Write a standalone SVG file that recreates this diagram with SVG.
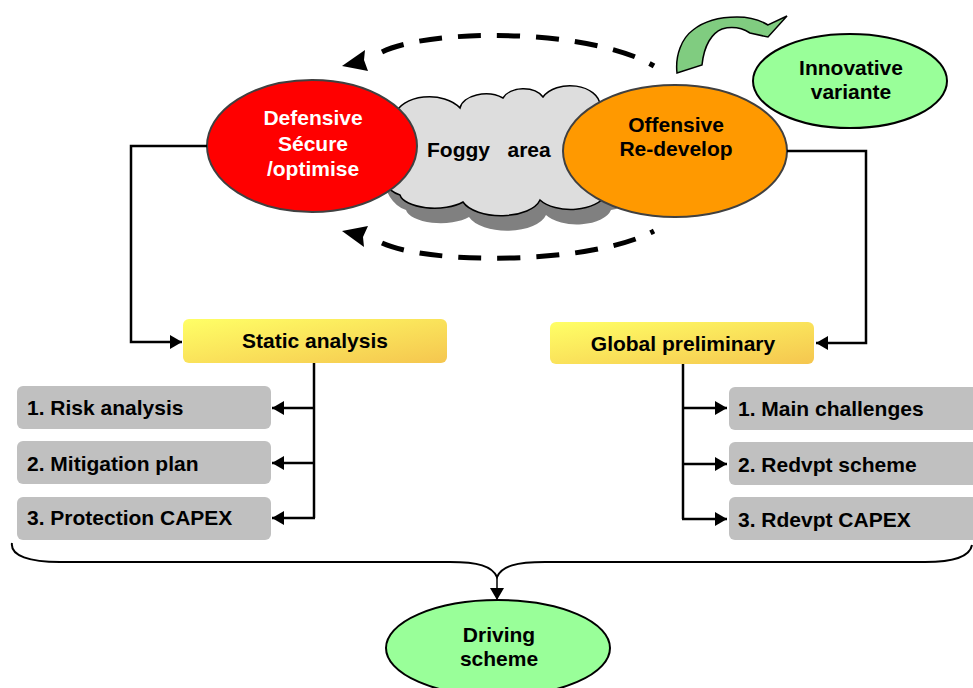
<svg xmlns="http://www.w3.org/2000/svg" width="973" height="688" viewBox="0 0 973 688">
<defs>
<style>
text{font-family:"Liberation Sans",Arial,sans-serif;font-weight:bold;font-size:21px;fill:#000}
.c{text-anchor:middle}
.w{fill:#fff}
.conn{fill:none;stroke:#000;stroke-width:2.5}
.dash{fill:none;stroke:#000;stroke-width:5;stroke-dasharray:23 16}
.grey{fill:#c0c0c0}
.yel{fill:url(#yg)}
</style>
<linearGradient id="yg" x1="0" y1="0" x2="1" y2="1">
<stop offset="0" stop-color="#ffff66"/>
<stop offset="1" stop-color="#f5c64f"/>
</linearGradient>
<marker id="ah" markerWidth="12" markerHeight="14" refX="12" refY="7" orient="auto" markerUnits="userSpaceOnUse">
<path d="M0,0 L12,7 L0,14 Z" fill="#000"/>
</marker>
</defs>

<g id="cycle-arrows">
<path class="dash" d="M382,52 C430,28 590,28 654,66"/>
<polygon points="342,66 365,50 364,60 368,71" fill="#000"/>
<path class="dash" d="M382,243 C430,265 590,265 654,231"/>
<polygon points="342,231 364,247 363,237 368,226" fill="#000"/>
</g>

<g id="foggy-area">
<path transform="translate(6,15)" fill="#808080" d="M395,115 A35 22 0 0 1 460,108 A26 16 0 0 1 503,98 A22 15 0 0 1 543,97 A30 20 0 0 1 600,105 A30 45 0 0 1 605,195 A35 18 0 0 1 540,200 A40 20 0 0 1 463,202 A35 15 0 0 1 400,195 A30 42 0 0 1 395,115 Z"/>
<path fill="#dddddd" stroke="#000" stroke-width="1.5" d="M395,115 A35 22 0 0 1 460,108 A26 16 0 0 1 503,98 A22 15 0 0 1 543,97 A30 20 0 0 1 600,105 A30 45 0 0 1 605,195 A35 18 0 0 1 540,200 A40 20 0 0 1 463,202 A35 15 0 0 1 400,195 A30 42 0 0 1 395,115 Z"/>
<text x="427" y="157" xml:space="preserve" style="white-space:pre">Foggy   area</text>
</g>

<g id="defensive">
<ellipse cx="312" cy="146" rx="105" ry="66" fill="#ff0000" stroke="#404040" stroke-width="2"/>
<text class="c w" x="313" y="125">Defensive</text>
<text class="c w" x="313" y="151">Sécure</text>
<text class="c w" x="313" y="176">/optimise</text>
</g>

<g id="offensive">
<ellipse cx="675" cy="151" rx="112" ry="66" fill="#ff9900" stroke="#404040" stroke-width="2"/>
<text class="c" x="676" y="132">Offensive</text>
<text class="c" x="676" y="156">Re-develop</text>
</g>

<g id="innovation-arrow">
<path fill="#80cc80" stroke="#000" stroke-width="1.5" d="M677,73 C675,55 682,38 693,30 C703,22 718,17 737,17 C750,17 760,20 768,25 L787,16 L768,37 L750,33 C742,28 733,26 722,29 C712,33 704,45 702,65 Z"/>
</g>

<g id="innovative">
<ellipse cx="850" cy="81" rx="97" ry="47" fill="#99ff99" stroke="#000" stroke-width="2"/>
<text class="c" x="851" y="75">Innovative</text>
<text class="c" x="851" y="99">variante</text>
</g>

<g id="static-analysis">
<rect class="yel" x="183" y="319" width="264" height="44" rx="6"/>
<text class="c" x="315" y="348">Static analysis</text>
</g>

<g id="global-preliminary">
<rect class="yel" x="550" y="322" width="264" height="42" rx="6"/>
<text class="c" x="683" y="351">Global preliminary</text>
</g>

<g id="risk-analysis">
<rect class="grey" x="17" y="386" width="254" height="43" rx="6"/>
<text x="27" y="415">1. Risk analysis</text>
</g>
<g id="mitigation-plan">
<rect class="grey" x="17" y="441" width="254" height="43" rx="6"/>
<text x="27" y="471">2. Mitigation plan</text>
</g>
<g id="protection-capex">
<rect class="grey" x="17" y="497" width="254" height="43" rx="6"/>
<text x="27" y="525">3. Protection CAPEX</text>
</g>

<g id="main-challenges">
<rect class="grey" x="729" y="387" width="260" height="43" rx="6"/>
<text x="738" y="416">1. Main challenges</text>
</g>
<g id="redvpt-scheme">
<rect class="grey" x="729" y="442" width="260" height="43" rx="6"/>
<text x="738" y="472">2. Redvpt scheme</text>
</g>
<g id="rdevpt-capex">
<rect class="grey" x="729" y="497" width="260" height="43" rx="6"/>
<text x="738" y="527">3. Rdevpt CAPEX</text>
</g>

<g id="driving-scheme">
<ellipse cx="498" cy="648" rx="112" ry="48" fill="#99ff99" stroke="#000" stroke-width="2"/>
<text class="c" x="499" y="642">Driving</text>
<text class="c" x="499" y="666">scheme</text>
</g>

<g id="connectors">
<path class="conn" d="M207,146 L131,146 L131,342 L182,342" marker-end="url(#ah)"/>
<path class="conn" d="M787,151 L866,151 L866,343 L816,343" marker-end="url(#ah)"/>
<path class="conn" d="M314,363 L314,518"/>
<path class="conn" d="M314,408 L272,408" marker-end="url(#ah)"/>
<path class="conn" d="M314,463 L272,463" marker-end="url(#ah)"/>
<path class="conn" d="M315,518 L272,518" marker-end="url(#ah)"/>
<path class="conn" d="M683,364 L683,519"/>
<path class="conn" d="M682,408 L727,408" marker-end="url(#ah)"/>
<path class="conn" d="M682,464 L727,464" marker-end="url(#ah)"/>
<path class="conn" d="M682,519 L727,519" marker-end="url(#ah)"/>
<path fill="none" stroke="#000" stroke-width="2" d="M12,543 C10,556 30,562 60,562 L450,562 C478,562 492,566 497,577 C502,566 516,562 545,562 L925,562 C955,562 970,556 972,545"/>
<path fill="none" stroke="#000" stroke-width="1.5" d="M497,577 L497,600" marker-end="url(#ah)"/>
</g>
</svg>
